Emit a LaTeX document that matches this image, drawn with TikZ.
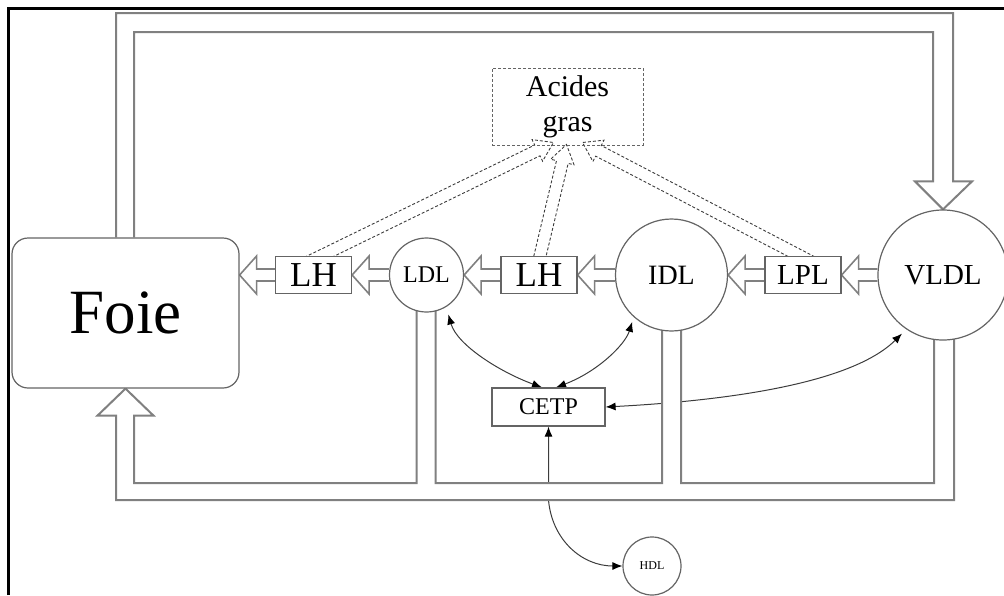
\documentclass[tikz,border=0pt]{standalone}
\usepackage{fontspec}
\setmainfont{Liberation Serif}
\usetikzlibrary{calc,arrows.meta}
\pgfdeclarelayer{background}
\pgfsetlayers{background,main}

\definecolor{pipegray}{RGB}{128,128,128}
\definecolor{edgegray}{RGB}{100,100,100}
\definecolor{linkgray}{RGB}{60,60,60}

\tikzset{
  pipe/.style={draw=pipegray, line width=2pt, line join=miter},
  pipefill/.style={fill=white},
  blob/.style={circle, draw=edgegray, line width=1.2pt, fill=white, inner sep=0pt},
  enzyme/.style={rectangle, draw=edgegray, line width=1.2pt, fill=white, inner sep=0pt,
                 minimum width=76pt, minimum height=37pt},
  organ/.style={rectangle, rounded corners=16pt, draw=edgegray, line width=1.2pt, fill=white,
                minimum width=227pt, minimum height=150pt, font=\fontsize{63}{70}\selectfont},
  flow/.style={draw=pipegray, line width=1.6pt, line join=miter},
  lipo/.style={draw=linkgray, dash pattern=on 3pt off 2pt, line width=0.9pt},
  link/.style={draw=linkgray, line width=1pt,
               {Latex[length=10pt,width=8pt,color=black]}-{Latex[length=10pt,width=8pt,color=black]}},
}

% hollow block arrow: style, start, tip, half shaft width, half head width, head length
\newcommand{\hollowarrow}[6]{%
  \coordinate (hab) at ($(#3)!#6!(#2)$);
  \draw[#1] ($(#2)!#4!90:(#3)$) -- ($(hab)!#4!90:(#3)$) -- ($(hab)!#5!90:(#3)$) -- (#3)
    -- ($(hab)!#5!-90:(#3)$) -- ($(hab)!#4!-90:(#3)$) -- ($(#2)!#4!-90:(#3)$);
}

\begin{document}
\begin{tikzpicture}[x=1pt,y=-1pt]
\useasboundingbox (0,0) rectangle (1004,595);

% ---- compartments ----
\node[organ] (foie) at (125.5,313) {Foie};
\node[enzyme, font=\fontsize{35}{40}\selectfont] (lh1) at (313.5,275) {LH};
\node[blob, minimum size=74pt, font=\fontsize{24}{28}\selectfont] (ldl) at (426.5,275) {LDL};
\node[enzyme, font=\fontsize{35}{40}\selectfont] (lh2) at (539,275) {LH};
\node[blob, minimum size=112pt, font=\fontsize{28}{32}\selectfont] (idl) at (671.5,275) {IDL};
\node[enzyme, font=\fontsize{29}{34}\selectfont] (lpl) at (803,275) {LPL};
\node[blob, minimum size=130pt, font=\fontsize{29}{34}\selectfont] (vldl) at (943,275) {VLDL};
\node[enzyme, minimum width=113pt, minimum height=38pt, font=\fontsize{24}{28}\selectfont] (cetp) at (548.5,407) {CETP};
\node[blob, minimum size=58pt, font=\fontsize{12}{14}\selectfont] (hdl) at (652,566) {HDL};
\node[draw=edgegray, dash pattern=on 3pt off 2pt, line width=1pt, minimum width=151pt,
      minimum height=77pt, align=center, font=\fontsize{30}{35}\selectfont] (ag) at (567.5,106.5) {Acides\\gras};

% ---- helper points ----
\coordinate (ag1) at ([shift={(-14pt,3pt)}]ag.south);
\coordinate (ag2) at ([shift={(-1pt,1pt)}]ag.south);
\coordinate (ag3) at ([shift={(15pt,3pt)}]ag.south);
\coordinate (lh1t) at ([xshift=7.5pt]lh1.north);
\coordinate (lh2t) at ([xshift=1pt]lh2.north);
\coordinate (lplt) at ([xshift=-3pt]lpl.north);
\coordinate (s1) at ($(ag1)!1.06!(lh1t)$);
\coordinate (s2) at ($(ag2)!1.06!(lh2t)$);
\coordinate (s3) at ($(ag3)!1.06!(lplt)$);

\coordinate (ldlc) at ($(ldl.center)!1.2!(ldl.-61)$);
\coordinate (idlc) at ($(idl.center)!1.08!(idl.-130)$);
\coordinate (vldlc) at ($(vldl.center)!1.09!(vldl.-125)$);

\coordinate (ytop) at (0,13);
\coordinate (ytopin) at (0,32);
\coordinate (ybin) at (0,483);
\coordinate (ybout) at (0,500);

\coordinate (ftl) at ([xshift=-9.5pt]foie.north);
\coordinate (ftr) at ([xshift=8.5pt]foie.north);
\coordinate (vtl) at ([xshift=-10pt]vldl.north);
\coordinate (vtr) at ([xshift=10pt]vldl.north);

\coordinate (fb) at (foie.south);
\coordinate (fbl) at ([xshift=-9.5pt]foie.south);
\coordinate (fbr) at ([xshift=8.5pt]foie.south);
\coordinate (lbl) at ([shift={(-10pt,6pt)}]ldl.south);
\coordinate (lbr) at ([shift={(9pt,6pt)}]ldl.south);
\coordinate (ibl) at ([shift={(-9.5pt,6pt)}]idl.south);
\coordinate (ibr) at ([shift={(9.5pt,6pt)}]idl.south);
\coordinate (vbl) at ([shift={(-9pt,6pt)}]vldl.south);
\coordinate (vbr) at ([shift={(11pt,6pt)}]vldl.south);

\begin{pgfonlayer}{background}
  % fatty acids released by the lipases
  \hollowarrow{lipo}{s1}{ag1}{6pt}{12pt}{18pt}
  \hollowarrow{lipo}{s2}{ag2}{6pt}{12pt}{18pt}
  \hollowarrow{lipo}{s3}{ag3}{6pt}{12pt}{18pt}

  % CETP exchanges
  \draw[link] ([xshift=-6.5pt]cetp.north) .. controls (500,372) and (457,345) .. (ldlc);
  \draw[link] ([xshift=7.5pt]cetp.north) .. controls (597,372) and (625,345) .. (idlc);
  \draw[link] (cetp.east) .. controls (720,401) and (850,385) .. (vldlc);
  \draw[link] (cetp.south) -- (cetp.south |- ybout) .. controls (552,540) and (582,566) .. (hdl.west);

  % lipolysis cascade
  \hollowarrow{flow}{vldl.west}{lpl.east}{6pt}{19pt}{17pt}
  \hollowarrow{flow}{lpl.west}{idl.east}{6pt}{19pt}{17pt}
  \hollowarrow{flow}{idl.west}{lh2.east}{6pt}{19pt}{17pt}
  \hollowarrow{flow}{lh2.west}{ldl.east}{6pt}{19pt}{17pt}
  \hollowarrow{flow}{ldl.west}{lh1.east}{6pt}{19pt}{17pt}
  \hollowarrow{flow}{lh1.west}{lh1.west -| foie.east}{6pt}{19pt}{17pt}

  % secretion: liver -> VLDL
  \fill[pipefill] (ftl) -- (ftl |- ytop) -- (vtr |- ytop) -- ([yshift=28pt]vtr)
    -- ([shift={(19pt,28pt)}]vtr) -- (vldl.north) -- ([shift={(-18pt,28pt)}]vtl)
    -- ([yshift=28pt]vtl) -- (vtl |- ytopin) -- (ftr |- ytopin) -- (ftr) -- cycle;
  \draw[pipe] (ftl) -- (ftl |- ytop) -- (vtr |- ytop) -- ([yshift=28pt]vtr)
    -- ([shift={(19pt,28pt)}]vtr) -- (vldl.north) -- ([shift={(-18pt,28pt)}]vtl)
    -- ([yshift=28pt]vtl) -- (vtl |- ytopin) -- (ftr |- ytopin) -- (ftr);

  % hepatic uptake: LDL, IDL, VLDL -> liver
  \fill[pipefill] (fb) -- ([shift={(28pt,-27pt)}]fb) -- ([yshift=-27pt]fbr) -- (fbr |- ybin)
    -- (lbl |- ybin) -- (lbl) -- (lbr) -- (lbr |- ybin) -- (ibl |- ybin) -- (ibl)
    -- (ibr) -- (ibr |- ybin) -- (vbl |- ybin) -- (vbl) -- (vbr) -- (vbr |- ybout)
    -- (fbl |- ybout) -- ([yshift=-27pt]fbl) -- ([shift={(-28pt,-27pt)}]fb) -- cycle;
  \draw[pipe] (fb) -- ([shift={(28pt,-27pt)}]fb) -- ([yshift=-27pt]fbr) -- (fbr |- ybin)
    -- (lbl |- ybin) -- (lbl)
    (lbr) -- (lbr |- ybin) -- (ibl |- ybin) -- (ibl)
    (ibr) -- (ibr |- ybin) -- (vbl |- ybin) -- (vbl)
    (vbr) -- (vbr |- ybout) -- (fbl |- ybout) -- ([yshift=-27pt]fbl)
    -- ([shift={(-28pt,-27pt)}]fb) -- (fb);
\end{pgfonlayer}

% frame
\draw[black, line width=2.7pt] (8.7,595) -- (8.7,8.7) -- (1004,8.7);
\end{tikzpicture}
\end{document}
